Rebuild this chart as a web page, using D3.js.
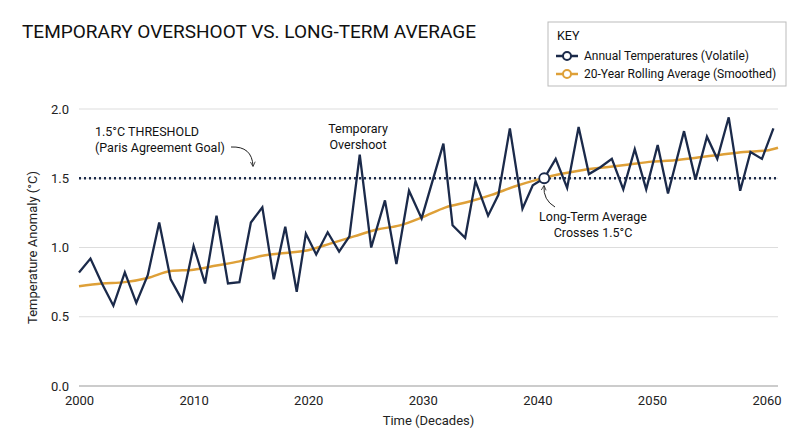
<!DOCTYPE html>
<html><head><meta charset="utf-8">
<script src="https://cdn.jsdelivr.net/npm/d3@7"></script>
<style>body{margin:0;background:#fff;font-family:Roboto,"Liberation Sans",sans-serif}</style>
</head><body><div id="chart"></div>
<script>
// annual temperatures (volatile)
var annualYears = [2000,2001,2002,2003,2004,2005,2006,2007,2008,2009,2010,2011,2012,2013,2014,2015,2016,2017,2018,2019,
  2019.8,2020.7,2021.7,2022.7,2023.6,2024.5,2025.5,2026.7,2027.7,2028.8,2029.9,2031.8,2032.6,2033.7,2034.6,2035.7,2036.6,2037.6,
  2038.7,2039.6,2040.6,2041.6,2042.6,2043.6,2044.5,2045.5,2046.5,2047.5,2048.5,2049.5,2050.5,2051.4,2052.8,2053.8,2054.8,
  2055.7,2056.7,2057.7,2058.6,2059.6,2060.6];
var annualValues = [0.82,0.92,0.74,0.58,0.82,0.60,0.80,1.18,0.77,0.62,1.01,0.74,1.23,0.74,0.75,1.18,1.29,0.77,1.15,0.68,
  1.10,0.95,1.11,0.97,1.08,1.67,1.00,1.34,0.88,1.41,1.21,1.75,1.16,1.07,1.48,1.23,1.38,1.86,
  1.28,1.45,1.50,1.64,1.43,1.87,1.53,1.58,1.64,1.42,1.71,1.42,1.74,1.39,1.84,1.49,1.80,
  1.64,1.94,1.41,1.69,1.64,1.86];
// 20-year rolling average (smoothed)
var avgYears = [2000,2002,2004,2006,2008,2010,2012,2014,2016,2018,2020,2022,2024,2026,2028,2030,2032,2034,2036,2038,2040,2042,2044,2046,2048,2050,2052,2054,2056,2058,2060,2061];
var avgValues = [0.72,0.74,0.75,0.78,0.83,0.84,0.87,0.90,0.94,0.96,0.98,1.03,1.08,1.13,1.16,1.22,1.29,1.33,1.38,1.44,1.49,1.53,1.56,1.58,1.60,1.62,1.63,1.65,1.67,1.69,1.70,1.72];
var xTicks = [2000,2010,2020,2030,2040,2050,2060];
var yTicks = [0,0.5,1,1.5,2];
var threshold = 1.5;
var crossYear = 2040.6;

var W = 800, H = 447;
var margin = {top: 109, right: 22, bottom: 61, left: 79};
var navy = "#1b2a4a", gold = "#dea038";

var svg = d3.select("#chart").append("svg").attr("width", W).attr("height", H);
var x = d3.scaleLinear().domain([2000, 2061]).range([margin.left, W - margin.right]);
var y = d3.scaleLinear().domain([0, 2]).range([H - margin.bottom, margin.top]);

svg.append("text").attr("x", 22).attr("y", 38).attr("font-size", 19).attr("fill", "#111")
  .text("TEMPORARY OVERSHOOT VS. LONG-TERM AVERAGE");

// grid
svg.append("g").selectAll("line").data(yTicks).enter().append("line")
  .attr("x1", margin.left).attr("x2", W - margin.right)
  .attr("y1", d => y(d)).attr("y2", d => y(d))
  .attr("stroke", d => d === 0 ? "#999" : "#ddd").attr("stroke-width", 1.2);

var yAxis = svg.append("g").attr("transform", "translate(" + margin.left + ",0)")
  .call(d3.axisLeft(y).tickValues(yTicks).tickFormat(d3.format(".1f")).tickSize(0).tickPadding(10));
yAxis.select(".domain").remove();
yAxis.selectAll("text").attr("font-size", 13).attr("fill", "#222").attr("font-family", "Roboto");

var xAxis = svg.append("g").attr("transform", "translate(0," + (H - margin.bottom) + ")")
  .call(d3.axisBottom(x).tickValues(xTicks).tickFormat(d3.format("d")).tickSize(0).tickPadding(10));
xAxis.select(".domain").remove();
xAxis.selectAll("text").attr("font-size", 13).attr("fill", "#222").attr("font-family", "Roboto");

svg.append("text").attr("x", (margin.left + W - margin.right) / 2).attr("y", 425)
  .attr("text-anchor", "middle").attr("font-size", 13).attr("fill", "#222").text("Time (Decades)");
svg.append("text").attr("transform", "translate(37," + y(1) + ") rotate(-90)")
  .attr("text-anchor", "middle").attr("font-size", 13).attr("fill", "#222").text("Temperature Anomaly (°C)");

// threshold
svg.append("line").attr("x1", margin.left).attr("x2", W - margin.right)
  .attr("y1", y(threshold)).attr("y2", y(threshold))
  .attr("stroke", navy).attr("stroke-width", 2.5).attr("stroke-dasharray", "2,3");

var line = d3.line().x(d => x(d[0])).y(d => y(d[1]));
svg.append("path").datum(avgYears.map((d, i) => [d, avgValues[i]]))
  .attr("d", line.curve(d3.curveMonotoneX)).attr("fill", "none").attr("stroke", gold).attr("stroke-width", 2.5);
svg.append("path").datum(annualYears.map((d, i) => [d, annualValues[i]]))
  .attr("d", d3.line().x(d => x(d[0])).y(d => y(d[1]))).attr("fill", "none")
  .attr("stroke", navy).attr("stroke-width", 2.3).attr("stroke-linejoin", "miter");

svg.append("circle").attr("cx", x(crossYear)).attr("cy", y(threshold)).attr("r", 5)
  .attr("fill", "#fff").attr("stroke", navy).attr("stroke-width", 1.8);

// annotations
var defs = svg.append("defs");
defs.append("marker").attr("id", "ah").attr("viewBox", "0 0 10 10").attr("refX", 8).attr("refY", 5)
  .attr("markerWidth", 6).attr("markerHeight", 6).attr("orient", "auto")
  .append("path").attr("d", "M1,1 L9,5 L1,9").attr("fill", "none").attr("stroke", "#222").attr("stroke-width", 1.3);

function label(lines, cx, cy, anchor) {
  var t = svg.append("text").attr("x", cx).attr("y", cy).attr("text-anchor", anchor)
    .attr("font-size", 12.5).attr("fill", "#111");
  lines.forEach((l, i) => t.append("tspan").attr("x", cx).attr("dy", i ? 16 : 0).text(l));
}
label(["1.5°C THRESHOLD", "(Paris Agreement Goal)"], 95, 136, "start");
svg.append("path").attr("d", "M231,147 Q252,146 253,166").attr("fill", "none")
  .attr("stroke", "#222").attr("stroke-width", 1).attr("marker-end", "url(#ah)");
label(["Temporary", "Overshoot"], 358, 133, "middle");
label(["Long-Term Average", "Crosses 1.5°C"], 593, 221, "middle");
svg.append("path").attr("d", "M555,207 Q543,200 544,186").attr("fill", "none")
  .attr("stroke", "#222").attr("stroke-width", 1).attr("marker-end", "url(#ah)");

// legend
var lg = svg.append("g").attr("transform", "translate(548,22)");
lg.append("rect").attr("width", 238).attr("height", 64).attr("fill", "#fff").attr("stroke", "#bbb");
lg.append("text").attr("x", 9).attr("y", 18).attr("font-size", 12.5).attr("fill", "#111").text("KEY");
[["Annual Temperatures (Volatile)", navy], ["20-Year Rolling Average (Smoothed)", gold]].forEach(function(d, i) {
  var yy = 34 + i * 18;
  lg.append("line").attr("x1", 8).attr("x2", 30).attr("y1", yy).attr("y2", yy).attr("stroke", d[1]).attr("stroke-width", 2.5);
  lg.append("circle").attr("cx", 19).attr("cy", yy).attr("r", 4).attr("fill", "#fff").attr("stroke", d[1]).attr("stroke-width", 2);
  lg.append("text").attr("x", 36).attr("y", yy + 4).attr("font-size", 12).attr("fill", "#111").text(d[0]);
});
</script></body></html>
